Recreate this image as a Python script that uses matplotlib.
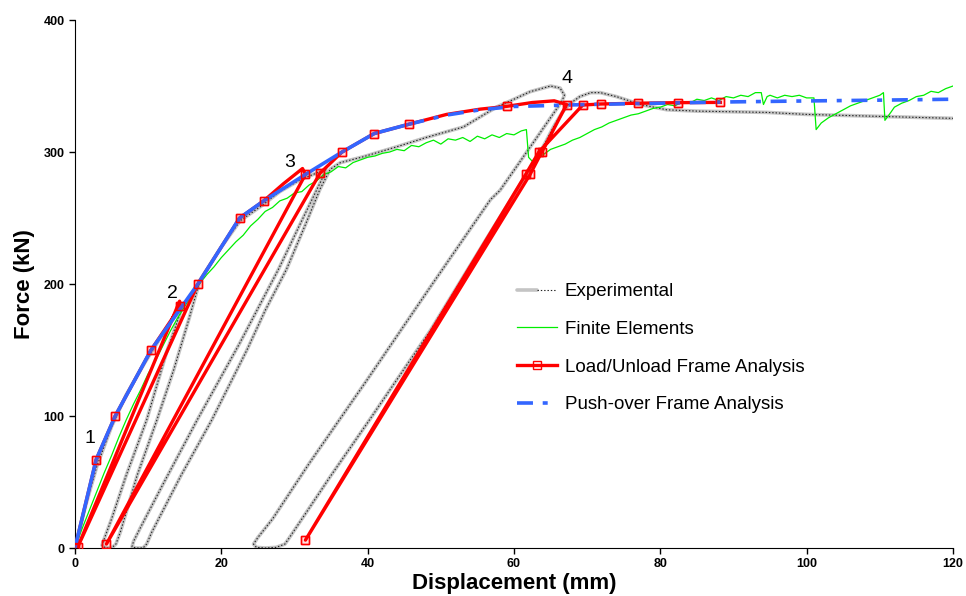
import matplotlib.pyplot as plt
from matplotlib.legend_handler import HandlerTuple

plt.rcParams['font.family'] = ['Liberation Sans', 'DejaVu Sans']
plt.rcParams['lines.scale_dashes'] = False

# ---------------- data (mm, kN) ----------------
exp_x = [0, 1.5, 3, 5, 7, 9.5, 12, 14.8,
         14.2, 12.5, 9.8, 7, 5, 4, 3.7, 4.2, 5.0, 5.6, 6.2,
         8.5, 11.2, 13.5, 15.5, 17.1,
         20, 22.6, 25.7, 28, 30.8, 34.3,
         33.8, 31, 27.8, 22.5, 16.7, 12, 9, 8.0, 7.8, 8.3, 9.3, 9.8, 10.5,
         14.5, 18.7, 23.5, 26, 28.9, 31.5, 33.5, 34.9,
         36.3, 39.4, 44, 48, 53.1, 57.7, 60, 62.2, 65, 66.3, 66.9,
         66.5, 64, 58.1, 56.8, 48.6, 40, 32, 27, 25, 24.4, 24.8, 26, 27.5, 28.7, 29.4,
         35, 40, 48.6, 56, 63.6, 65.5, 66.6, 67.5, 69, 70.5, 71.8, 74, 77.3, 80.9, 85,
         94.6, 100, 110, 120]
exp_y = [0, 33, 62, 92, 116, 140, 162, 185,
         175, 148, 97, 55, 22, 7, 2, 0, 0, 3, 12,
         55, 97, 135, 172, 203,
         228, 248, 260, 270, 279, 287,
         280, 248, 211, 155, 97, 48, 16, 5, 1, 0, 0, 3, 12,
         55, 97, 150, 180, 211, 245, 272, 287,
         292, 296.4, 304, 311, 319, 334.3, 340, 345.7, 350, 348.5, 343,
         338, 318, 271, 264, 198, 128, 64, 22, 8, 3, 0.5, 0, 0.5, 3, 8.6,
         55, 95, 165, 232, 300, 320, 330, 336, 342, 345, 345, 342, 336, 332, 331,
         330, 328.5, 327, 325.5]

fe_x = [0, 1, 2, 3, 4, 5, 6, 7, 8, 9, 10, 11, 12, 13, 14, 15, 16, 17, 18, 19, 20,
        21, 22, 23, 24, 25, 26, 27, 28, 29, 30, 31, 32, 33, 34, 35, 36, 37, 38, 39, 40,
        41, 42, 43, 44, 45, 46, 47, 48, 49, 50, 51, 52, 53, 54, 55, 56, 57, 58, 59, 60,
        61, 61.7, 62.0, 62.5, 63, 64, 65, 66, 67, 68, 69, 70, 71, 72, 73, 74, 75, 76, 77,
        78, 79, 80, 81, 82, 83, 84, 85, 86, 87, 88, 89, 90, 91, 92, 93, 93.8, 94.1, 94.6,
        95, 96, 97, 98, 99, 100, 101, 101.3, 102, 103, 104, 105, 106, 107, 108, 109, 110,
        110.5, 110.7, 111.5, 112, 113, 114, 115, 116, 117, 118, 119, 120]
fe_y = [0, 15, 29, 43, 57, 70, 84, 97, 109, 120, 132, 142, 153, 164, 174, 183, 192, 200, 207, 213, 220,
        226, 232, 237, 244, 249, 255, 258, 263, 265, 269, 270, 275, 278, 283, 285, 289, 288, 292, 294, 296,
        297, 299, 300, 302, 301, 305, 304, 307, 309, 306, 310, 309, 311, 308, 312, 310, 313, 311, 314, 313,
        316, 317, 296, 293, 296, 298, 302, 304, 306, 309, 311, 314, 317, 319, 322, 324, 326, 328, 329,
        331, 333, 334, 336, 335, 338, 337, 340, 339, 341, 339, 342, 341, 343, 342, 345, 345, 336, 342,
        343, 341, 343, 342, 343, 341, 341, 317, 322, 326, 329, 332, 335, 337, 339, 341, 343,
        345, 324, 330, 334, 337, 339, 342, 343, 346, 345, 348, 350]

red_x = [0, 2.9, 5.5, 10.4, 14.4, 14.3, 0.4, 16.8, 22.5, 25.8, 28.5, 31.1, 31.5, 4.3,
         33.5, 36.5, 40.9, 45.6, 50.8, 55.4, 59, 62.5, 65.5, 67.2, 63.8, 62.2, 31.5,
         61.6, 63.4, 69.4, 71.9, 77, 82.4, 88.2]
red_y = [0, 67, 100, 150, 183, 187, 1, 200, 250, 263, 276, 287.5, 283, 3,
         284, 300, 314, 321, 328.5, 332.5, 334.6, 337.5, 338.8, 336, 300, 283, 6,
         283, 300, 335.6, 336.4, 337, 337.4, 337.6]
red_marks = [0, 1, 2, 3, 4, 6, 7, 8, 9, 12, 13, 14, 15, 16, 17, 20, 23, 24, 25, 26,
             27, 28, 29, 30, 31, 32, 33]

push_x = [0, 2.9, 5.5, 10.4, 16.8, 22.5, 25.8, 31.5, 36.5, 40.9, 45.6, 50.8, 55.4,
          60, 70, 80, 90, 100, 110, 120]
push_y = [0, 67, 100, 150, 200, 250, 263, 283, 300, 314, 321, 328, 332,
          334.5, 336, 337, 338, 338.7, 339.3, 340]
dash_from = 10  # solid before this point, dashed after

peak_labels = ['1', '2', '3', '4']
peak_lx = [2.05, 13.3, 29.3, 67.2]
peak_ly = [83, 193, 292, 356]

# ---------------- plot ----------------
fig = plt.figure(figsize=(9.66, 5.96), dpi=100)
ax = fig.add_axes([0.0776, 0.0805, 0.9089, 0.8859])

exp_base, = ax.plot(exp_x, exp_y, color='#c4c4c4', lw=2.6, zorder=2,
                    solid_capstyle='round', solid_joinstyle='round')
exp_dots, = ax.plot(exp_x, exp_y, color='#222222', lw=0.8, dashes=(1, 1.4), zorder=2.1)

fe_line, = ax.plot(fe_x, fe_y, color='#00ee00', lw=0.9, zorder=2.5)

red_line, = ax.plot(red_x, red_y, color='#ff0000', lw=2.4, marker='s', ms=5.5,
                    mfc='none', mec='#ff0000', mew=1, markevery=red_marks, zorder=3)
ax.plot([red_x[i] for i in red_marks], [red_y[i] for i in red_marks], ls='none',
        marker='s', ms=5.5, mfc=(1, 0, 0, 0.12), mec='#ff0000', mew=1, zorder=5)

ax.plot(push_x[:dash_from + 1], push_y[:dash_from + 1], color='#3366ff', lw=2.6,
        zorder=4, solid_capstyle='butt')
push_line, = ax.plot(push_x[dash_from:], push_y[dash_from:], color='#3366ff', lw=2.6,
                     dashes=(11.5, 7, 3.6, 7), zorder=4)

for t, x, y in zip(peak_labels, peak_lx, peak_ly):
    ax.text(x, y, t, fontsize=14, ha='center', va='center')

ax.set_xlim(0, 120)
ax.set_ylim(0, 400)
ax.set_xticks(range(0, 121, 20))
ax.set_yticks(range(0, 401, 100))
for s in ['top', 'right']:
    ax.spines[s].set_visible(False)
ax.tick_params(direction='out', length=4, width=1, labelsize=9)
for lab in ax.get_xticklabels() + ax.get_yticklabels():
    lab.set_fontweight('bold')
ax.set_xlabel('Displacement (mm)', fontsize=16, fontweight='bold', labelpad=2)
ax.set_ylabel('Force (kN)', fontsize=16, fontweight='bold', labelpad=6)

ax.legend([(exp_base, exp_dots), fe_line, red_line, push_line],
          ['Experimental', 'Finite Elements', 'Load/Unload Frame Analysis',
           'Push-over Frame Analysis'],
          handler_map={tuple: HandlerTuple(ndivide=None)},
          loc='upper left', bbox_to_anchor=(0.503, 0.502), frameon=False,
          fontsize=13.5, handlelength=2.13, handletextpad=0.43, labelspacing=1.1,
          borderpad=0, borderaxespad=0)

fig.savefig('out.png', dpi=100)
